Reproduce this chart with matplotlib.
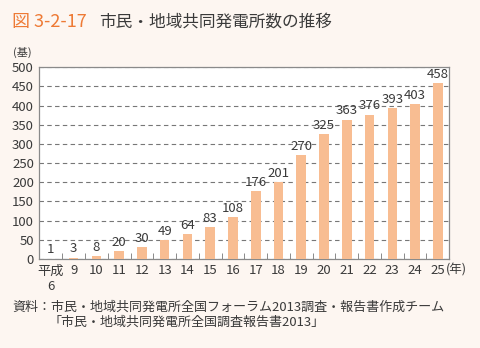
import numpy as np
import matplotlib.pyplot as plt

plt.rcParams['font.family'] = ['Noto Sans CJK JP', 'DejaVu Sans']

years = ['平成\n6', '9', '10', '11', '12', '13', '14', '15', '16', '17',
         '18', '19', '20', '21', '22', '23', '24', '25']
counts = [1, 3, 8, 20, 30, 49, 64, 83, 108, 176,
          201, 270, 325, 363, 376, 393, 403, 458]

bg = '#fdf6f1'
bar_color = '#f8bd92'
text_color = '#3a3a3a'

fig = plt.figure(figsize=(4.81, 3.48), dpi=100, facecolor=bg)
ax = fig.add_axes([0.082, 0.256, 0.852, 0.551])
ax.set_facecolor('white')

x = np.arange(len(years))
ax.bar(x, counts, width=0.42, color=bar_color, zorder=3)
for xi, v in zip(x, counts):
    ax.text(xi, v + 6, str(v), ha='center', va='bottom', fontsize=9.5,
            color=text_color, zorder=4)

ax.set_xlim(-0.5, len(years) - 0.5)
ax.set_ylim(0, 500)
ax.set_yticks(np.arange(0, 501, 50))
ax.tick_params(axis='y', length=0, labelsize=9.5, labelcolor=text_color, pad=4)
ax.yaxis.grid(True, linestyle=(0, (4, 3)), color='#777777', linewidth=0.8, zorder=1)

ax.set_xticks(x)
ax.set_xticklabels(years, fontsize=9.5, color=text_color, linespacing=1.25)
ax.tick_params(axis='x', length=0, pad=4)
ax.set_xticks(x[:-1] + 0.5, minor=True)
ax.tick_params(axis='x', which='minor', direction='in', length=4, color='#777777')

for s in ax.spines.values():
    s.set_color('#8a8a8a')
    s.set_linewidth(0.9)

fig.text(0.025, 0.938, '図 3-2-17', fontsize=13, color='#ee7a35', va='center')
fig.text(0.207, 0.938, '市民・地域共同発電所数の推移', fontsize=12, color=text_color, va='center')
fig.text(0.028, 0.848, '(基)', fontsize=8, color=text_color, va='center')
fig.text(0.928, 0.225, '(年)', fontsize=9, color=text_color, va='center')
fig.text(0.025, 0.118, '資料：市民・地域共同発電所全国フォーラム2013調査・報告書作成チーム',
         fontsize=9.4, color=text_color, va='center')
fig.text(0.1, 0.074, '「市民・地域共同発電所全国調査報告書2013」',
         fontsize=9.4, color=text_color, va='center')

fig.savefig('out.png', dpi=100, facecolor=bg)
